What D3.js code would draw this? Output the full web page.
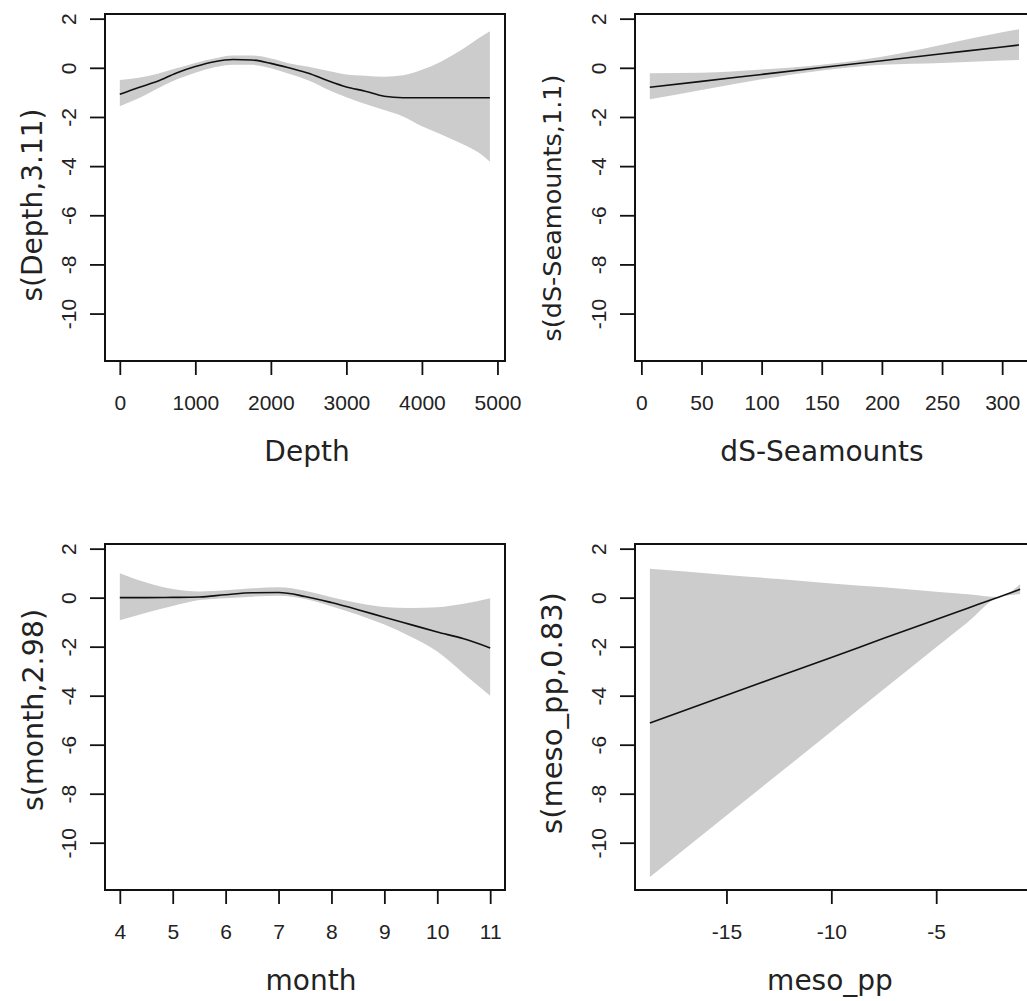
<!DOCTYPE html>
<html><head><meta charset="utf-8">
<script src="https://cdn.jsdelivr.net/npm/d3@7/dist/d3.min.js"></script>
<style>html,body{margin:0;padding:0;background:#fff;overflow:hidden}</style>
</head><body>
<svg id="chart" width="1027" height="1001"></svg>
<script>
// ---- shared y axis ----
const yTicks = [2, 0, -2, -4, -6, -8, -10];
const yDomain = [-11.93, 2.19];

// ---- Depth ----
const depthTicks = [0, 1000, 2000, 3000, 4000, 5000];
const depthX     = [0, 250, 500, 750, 1000, 1250, 1500, 1750, 2000, 2250, 2500, 2750, 3000, 3250, 3500, 3750, 4000, 4250, 4500, 4750, 4900];
const depthFit   = [-1.08, -0.80, -0.55, -0.21, 0.05, 0.25, 0.34, 0.32, 0.18, -0.01, -0.22, -0.52, -0.78, -0.95, -1.16, -1.22, -1.22, -1.22, -1.22, -1.22, -1.22];
const depthUpper = [-0.50, -0.40, -0.24, -0.02, 0.20, 0.38, 0.50, 0.50, 0.38, 0.18, 0.04, -0.12, -0.27, -0.32, -0.36, -0.30, -0.08, 0.25, 0.68, 1.20, 1.49];
const depthLower = [-1.56, -1.24, -0.84, -0.48, -0.20, 0.02, 0.13, 0.12, -0.02, -0.25, -0.52, -0.88, -1.20, -1.47, -1.72, -1.98, -2.38, -2.70, -3.05, -3.45, -3.82];

// ---- dS-Seamounts ----
const seamountTicks = [0, 50, 100, 150, 200, 250, 300];
const seamountX     = [7, 50, 100, 150, 200, 250, 300, 314];
const seamountFit   = [-0.79, -0.55, -0.27, 0.01, 0.29, 0.57, 0.85, 0.93];
const seamountUpper = [-0.22, -0.20, -0.07, 0.13, 0.45, 0.94, 1.45, 1.57];
const seamountLower = [-1.28, -0.90, -0.47, -0.11, 0.12, 0.20, 0.30, 0.32];

// ---- month ----
const monthTicks = [4, 5, 6, 7, 8, 9, 10, 11];
const monthX     = [4, 4.5, 5, 5.5, 6, 6.5, 7, 7.5, 8, 8.5, 9, 9.5, 10, 10.5, 11];
const monthFit   = [0, 0, 0.01, 0.03, 0.12, 0.20, 0.21, 0.05, -0.20, -0.49, -0.80, -1.10, -1.40, -1.68, -2.05];
const monthUpper = [1.00, 0.62, 0.35, 0.25, 0.30, 0.38, 0.42, 0.28, 0.02, -0.22, -0.38, -0.42, -0.39, -0.25, -0.02];
const monthLower = [-0.92, -0.62, -0.34, -0.10, -0.02, 0.04, 0.08, -0.05, -0.35, -0.70, -1.10, -1.60, -2.20, -3.10, -4.00];

// ---- meso_pp ----
const mesoTicks = [-15, -10, -5];
const mesoX     = [-18.65, -15, -12.5, -10, -7.5, -5, -3.5, -2, -1.0];
const mesoFit   = [-5.11, -3.98, -3.21, -2.44, -1.66, -0.89, -0.43, 0.03, 0.34];
const mesoUpper = [1.18, 0.93, 0.76, 0.58, 0.42, 0.24, 0.14, 0.03, 0.55];
const mesoLower = [-11.40, -8.89, -7.18, -5.46, -3.74, -2.02, -1.00, 0.03, 0.15];

const panels = [
  {xs: depthX, fit: depthFit, up: depthUpper, lo: depthLower, xDomain: [-196, 5100], ticks: depthTicks,
   xTitle: "Depth", yTitle: "s(Depth,3.11)", box: [105, 14, 505, 361], yTitleX: 42, yTitleY: 205, yTitleSize: 28, xTitleX: 307},
  {xs: seamountX, fit: seamountFit, up: seamountUpper, lo: seamountLower, xDomain: [-5.3, 327.3], ticks: seamountTicks,
   xTitle: "dS-Seamounts", yTitle: "s(dS-Seamounts,1.1)", box: [635, 14, 1035, 361], yTitleX: 561, yTitleY: 208, yTitleSize: 25.5, xTitleX: 822},
  {xs: monthX, fit: monthFit, up: monthUpper, lo: monthLower, xDomain: [3.72, 11.28], ticks: monthTicks,
   xTitle: "month", yTitle: "s(month,2.98)", box: [105, 544, 505, 890], yTitleX: 43, yTitleY: 710, yTitleSize: 28.5, xTitleX: 311},
  {xs: mesoX, fit: mesoFit, up: mesoUpper, lo: mesoLower, xDomain: [-19.36, -0.29], ticks: mesoTicks,
   xTitle: "meso_pp", yTitle: "s(meso_pp,0.83)", box: [635, 544, 1035, 890], yTitleX: 562, yTitleY: 713, yTitleSize: 29, xTitleX: 830}
];

const svg = d3.select("#chart");
const ink = "#111";
const tickFont = "'Liberation Sans', Arial, sans-serif";
const titleFont = "'DejaVu Sans', sans-serif";

panels.forEach(p => {
  const [L, T, R, B] = p.box;
  const x = d3.scaleLinear().domain(p.xDomain).range([L, R]);
  const y = d3.scaleLinear().domain(yDomain).range([B, T]);
  const pts = p.xs.map((v, i) => ({x: v, f: p.fit[i], u: p.up[i], l: p.lo[i]}));
  const g = svg.append("g");

  g.append("path")
    .attr("d", d3.area().x(d => x(d.x)).y0(d => y(d.l)).y1(d => y(d.u)).curve(d3.curveMonotoneX)(pts))
    .attr("fill", "#cccccc");
  g.append("path")
    .attr("d", d3.line().x(d => x(d.x)).y(d => y(d.f)).curve(d3.curveMonotoneX)(pts))
    .attr("fill", "none").attr("stroke", ink).attr("stroke-width", 1.6);

  g.append("rect").attr("x", L).attr("y", T).attr("width", R - L).attr("height", B - T)
    .attr("fill", "none").attr("stroke", ink).attr("stroke-width", 2);

  // x axis
  const xa = g.append("g").attr("transform", `translate(0,${B})`)
    .call(d3.axisBottom(x).tickValues(p.ticks).tickSize(14).tickSizeOuter(0).tickFormat(d => String(d)));
  xa.select(".domain").remove();
  xa.selectAll(".tick line").attr("stroke", ink).attr("stroke-width", 1.8);
  xa.selectAll(".tick text").attr("y", 49).attr("dy", null)
    .attr("fill", "#222").style("font-family", tickFont).style("font-size", "21px");

  // y axis
  const ya = g.append("g").attr("transform", `translate(${L},0)`)
    .call(d3.axisLeft(y).tickValues(yTicks).tickSize(15).tickSizeOuter(0).tickFormat(d => String(d)));
  ya.select(".domain").remove();
  ya.selectAll(".tick line").attr("stroke", ink).attr("stroke-width", 1.8);
  ya.selectAll(".tick text").attr("x", 0).attr("y", 0).attr("dy", null)
    .attr("transform", "translate(-29,0) rotate(-90)").attr("text-anchor", "middle")
    .attr("fill", "#222").style("font-family", tickFont).style("font-size", "21px");

  // titles
  g.append("text").attr("x", p.xTitleX).attr("y", B + 100).attr("text-anchor", "middle")
    .attr("fill", "#222").style("font-family", titleFont).style("font-size", "28px").text(p.xTitle);
  g.append("text").attr("transform", `translate(${p.yTitleX},${p.yTitleY}) rotate(-90)`).attr("text-anchor", "middle")
    .attr("fill", "#222").style("font-family", titleFont).style("font-size", p.yTitleSize + "px").text(p.yTitle);
});
</script>
</body></html>
